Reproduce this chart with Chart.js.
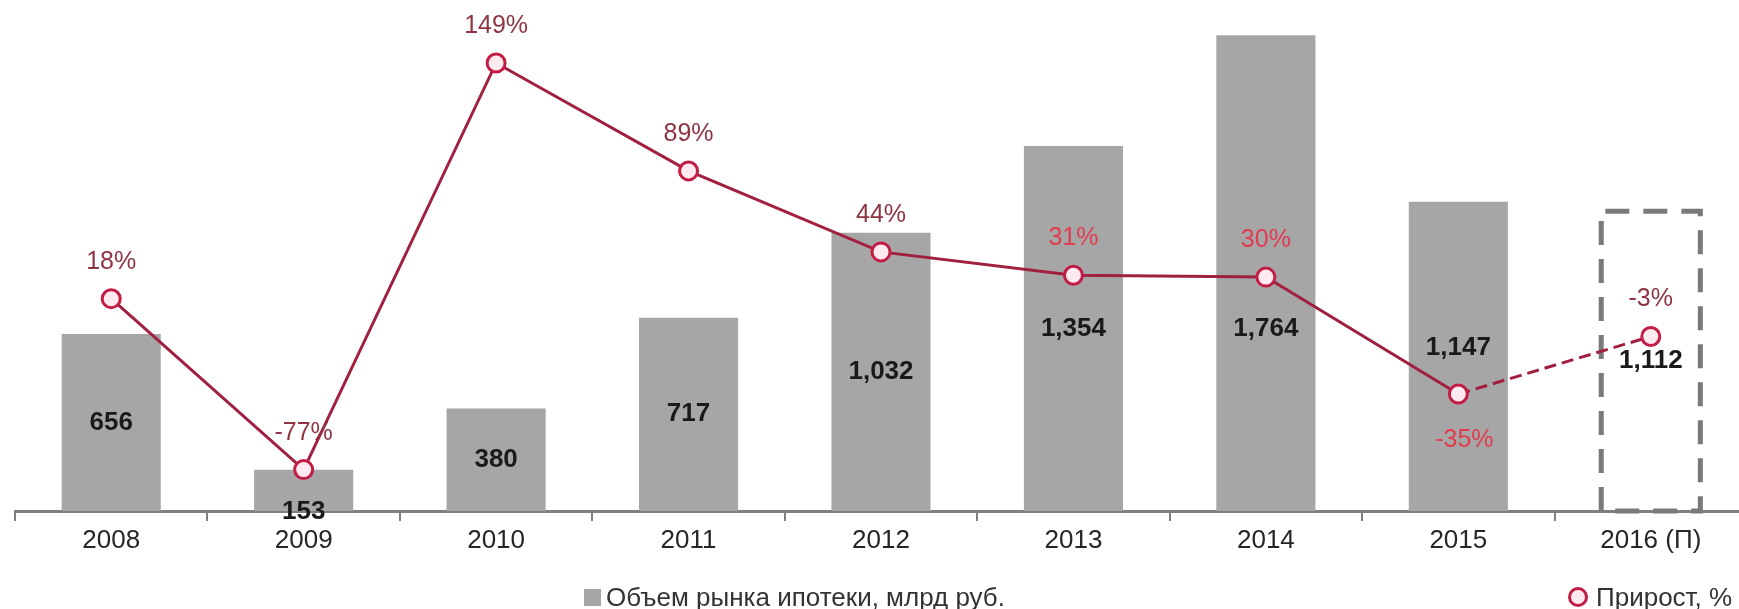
<!DOCTYPE html>
<html>
<head>
<meta charset="utf-8">
<style>
html,body{margin:0;padding:0;background:#fff;overflow:hidden;width:1739px;height:609px}
#wrap{position:absolute;left:0;top:0;width:1760px;height:609px}
canvas{display:block}
.leg{position:absolute;font:26px "Liberation Sans",Arial,sans-serif;color:#333;white-space:nowrap;line-height:30px}
.sq{position:absolute;width:17px;height:17px;background:#a6a6a6}
.ci{position:absolute;width:14px;height:14px;border:3px solid #c41d45;background:#ffeaf0;border-radius:50%}
</style>
<script src="https://cdn.jsdelivr.net/npm/chart.js@4"></script>
</head>
<body>
<div id="wrap"><canvas id="c" width="1760" height="609"></canvas></div>
<div class="sq" style="left:584px;top:589px"></div>
<div class="leg" style="left:606px;top:582px">Объем рынка ипотеки, млрд руб.</div>
<div class="ci" style="left:1568px;top:587px"></div>
<div class="leg" style="left:1596px;top:582px">Прирост, %</div>
<script>
// ---- data ----
const categories = ['2008', '2009', '2010', '2011', '2012', '2013', '2014', '2015', '2016 (П)'];
const marketVolume = [656, 153, 380, 717, 1032, 1354, 1764, 1147, 1112];
const growthPct = [18, -77, 149, 89, 44, 31, 30, -35, -3];
const forecastIndex = 8;

// ---- label styling ----
const FONT = '"Liberation Sans", Arial, sans-serif';
const barLabelShift = [0, 21, 0, 0, 0, 0, 56, -9, 0];
const pctBelow = [false, false, false, false, false, false, false, true, false];
const pctColor = ['#8e3442', '#8e3442', '#8e3442', '#8e3442', '#8e3442', '#e23b50', '#e23b50', '#e23b50', '#8e3442'];

const labelPlugin = {
  id: 'labels',
  afterDatasetDraw(chart, args) {
    if (args.index !== 1) return;
    const el = chart.getDatasetMeta(1).data[forecastIndex];
    const p = el.getProps(['x', 'y', 'width', 'base'], true);
    const ctx = chart.ctx;
    const l = p.x - p.width / 2, r = p.x + p.width / 2;
    ctx.save();
    ctx.strokeStyle = '#7a7a7a';
    ctx.lineWidth = 5;
    ctx.setLineDash([24, 14]);
    ctx.beginPath();
    ctx.moveTo(l, p.base);
    ctx.lineTo(l, p.y);
    ctx.lineTo(r, p.y);
    ctx.lineTo(r, p.base);
    ctx.lineTo(l, p.base);
    ctx.stroke();
    ctx.restore();
  },
  afterDatasetsDraw(chart) {
    const ctx = chart.ctx;
    const bars = chart.getDatasetMeta(1).data;
    const pts = chart.getDatasetMeta(0).data;
    ctx.save();
    ctx.textAlign = 'center';
    ctx.textBaseline = 'middle';
    ctx.font = 'bold 26px ' + FONT;
    ctx.fillStyle = '#1a1a1a';
    bars.forEach((b, i) => {
      const p = b.getProps(['x', 'y', 'base'], true);
      const cy = (p.y + p.base) / 2 + barLabelShift[i];
      ctx.fillText(marketVolume[i].toLocaleString('en-US'), p.x, cy);
    });
    ctx.font = '25px ' + FONT;
    pts.forEach((pt, i) => {
      ctx.fillStyle = pctColor[i];
      const y = pt.y + (pctBelow[i] ? 46 : -37);
      ctx.fillText(growthPct[i] + '%', pt.x + (pctBelow[i] ? 6 : 0), y);
    });
    ctx.restore();
  }
};

new Chart(document.getElementById('c'), {
  type: 'bar',
  data: {
    labels: categories,
    datasets: [
      {
        type: 'line',
        label: 'Прирост, %',
        data: growthPct,
        yAxisID: 'y2',
        borderColor: '#a11f3f',
        borderWidth: 3,
        tension: 0,
        pointRadius: 9,
        pointBorderWidth: 3,
        pointBackgroundColor: '#ffeaf0',
        pointBorderColor: '#c41d45',
        segment: { borderDash: ctx => ctx.p1DataIndex === forecastIndex ? [12, 6] : undefined },
        clip: false,
        order: 0
      },
      {
        type: 'bar',
        label: 'Объем рынка ипотеки, млрд руб.',
        data: marketVolume,
        yAxisID: 'y',
        backgroundColor: ctx => ctx.dataIndex === forecastIndex ? 'rgba(0,0,0,0)' : '#a6a6a6',
        borderWidth: 0,
        categoryPercentage: 1,
        barPercentage: 0.515,
        order: 1
      }
    ]
  },
  options: {
    responsive: false,
    animation: false,
    devicePixelRatio: 1,
    layout: { autoPadding: false, padding: { left: 15, right: 13, top: 0, bottom: 0 } },
    plugins: { legend: { display: false }, tooltip: { enabled: false } },
    scales: {
      x: {
        offset: true,
        grid: { display: true, drawOnChartArea: false, drawTicks: true, tickLength: 10, color: '#808080', lineWidth: 2, offset: true },
        border: { display: true, color: '#808080', width: 3 },
        ticks: { font: { family: FONT, size: 26 }, color: '#262626', padding: 4, maxRotation: 0, autoSkip: false },
        afterFit: s => { s.height = 98; }
      },
      y: { display: false, min: 0, max: 1895 },
      y2: { display: false, min: -100, max: 184 }
    }
  },
  plugins: [labelPlugin]
});
</script>
</body>
</html>
